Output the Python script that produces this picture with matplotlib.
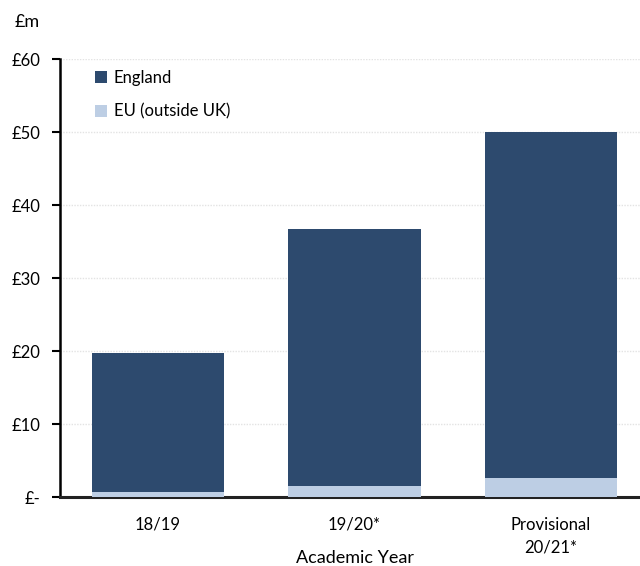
import matplotlib
matplotlib.use("Agg")
import matplotlib.pyplot as plt

categories = ["18/19", "19/20*", "Provisional\n20/21*"]
england = [19.1, 35.2, 47.4]
eu_outside_uk = [0.7, 1.6, 2.6]
y_ticks = [0, 10, 20, 30, 40, 50, 60]
y_tick_labels = ["£-", "£10", "£20", "£30", "£40", "£50", "£60"]

dark = "#2D4A6E"
light = "#BDCEE4"

plt.rcParams["font.family"] = ["Lato", "DejaVu Sans"]

fig = plt.figure(figsize=(6.4, 5.66), dpi=100)
ax = fig.add_axes([0.09375, 0.1214, 0.90625, 0.7738])

x = list(range(len(categories)))
width = 0.672
ax.bar(x, eu_outside_uk, width, color=light, label="EU (outside UK)", zorder=3)
ax.bar(x, england, width, bottom=eu_outside_uk, color=dark, label="England", zorder=3)

ax.set_xlim(-0.4987, 2.453)
ax.set_ylim(0, 60)
ax.set_yticks(y_ticks)
ax.set_yticklabels(y_tick_labels, fontsize=12)
ax.set_xticks(x)
ax.set_xticklabels(categories, fontsize=12, linespacing=1.5)
ax.tick_params(axis="x", length=0, pad=14)
ax.tick_params(axis="y", length=6, width=1.5, direction="out", pad=8)
for lbl in ax.get_xticklabels():
    lbl.set_verticalalignment("top")

ax.yaxis.grid(True, color="#E3E3E3", linestyle=(0, (1, 1)), linewidth=1, zorder=0)
ax.spines["top"].set_visible(False)
ax.spines["right"].set_visible(False)
ax.spines["left"].set_linewidth(1.8)
ax.spines["bottom"].set_linewidth(2.2)
ax.spines["bottom"].set_color("#222222")

fig.text(355 / 640, 1 - 558 / 566, "Academic Year", fontsize=13, ha="center", va="center")
fig.text(15 / 640, 1 - 22 / 566, "£m", fontsize=13, va="center", ha="left")

handles, labels = ax.get_legend_handles_labels()
leg = ax.legend(handles[::-1], labels[::-1], loc="upper left", bbox_to_anchor=(0.035, 1.01),
                frameon=False, fontsize=12, handlelength=0.7, handleheight=0.7,
                handletextpad=0.4, labelspacing=1.05)

fig.savefig("out.png", dpi=100)
